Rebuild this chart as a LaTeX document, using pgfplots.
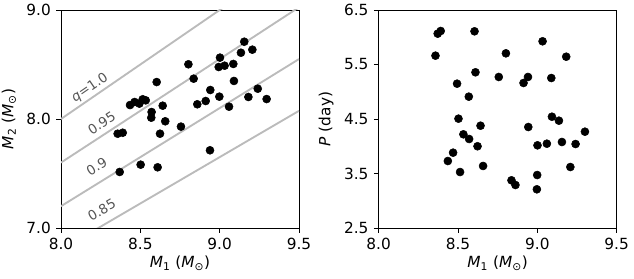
\documentclass[border=0pt]{standalone}
\usepackage{pgfplots}
\pgfplotsset{compat=1.18}
\usepackage{fontspec}
\setmainfont{DejaVu Sans}
\definecolor{qline}{HTML}{BBBBBB}
\definecolor{qtext}{HTML}{555555}
\pgfplotstableread{
m1 m2
9.155 8.709
9.134 8.608
9.206 8.636
9.002 8.563
8.994 8.477
9.031 8.489
9.086 8.505
8.803 8.502
8.836 8.370
9.090 8.349
8.603 8.339
8.941 8.266
9.240 8.278
8.912 8.165
8.998 8.205
9.181 8.202
9.296 8.183
8.859 8.135
9.059 8.113
8.435 8.128
8.464 8.156
8.494 8.141
8.515 8.181
8.534 8.171
8.641 8.122
8.571 8.064
8.569 8.012
8.657 7.979
8.756 7.930
8.357 7.865
8.389 7.874
8.624 7.865
8.939 7.713
8.502 7.581
8.609 7.557
8.370 7.514
}\massdata
\pgfplotstableread{
m1 p
8.391 6.115
8.372 6.066
8.604 6.109
9.033 5.926
8.358 5.662
8.802 5.705
9.182 5.643
8.610 5.357
8.757 5.271
8.941 5.271
8.913 5.161
9.088 5.252
8.494 5.148
8.568 4.910
8.503 4.506
9.092 4.542
9.136 4.469
8.642 4.377
8.943 4.353
9.300 4.267
8.534 4.219
8.570 4.133
8.623 4.000
9.001 4.017
9.060 4.047
9.155 4.078
9.241 4.041
8.469 3.882
8.436 3.729
8.658 3.638
9.208 3.619
8.513 3.527
8.999 3.472
8.837 3.375
8.862 3.289
8.997 3.210
}\perdata
\begin{document}
\fontsize{11.5}{13.5}\selectfont
\begin{tikzpicture}
\useasboundingbox (0,0) rectangle (475.5pt,208.5pt);
\pgfplotsset{
  every axis/.append style={
    scale only axis, width=178.5pt, height=163.5pt,
    anchor=south west,
    tick align=outside, xtick pos=bottom, ytick pos=left,
    major tick length=3.6pt,
    tick style={black, line width=0.6pt},
    axis line style={line width=0.6pt},
    /pgf/number format/assume math mode=true,
    /pgf/number format/fixed, /pgf/number format/fixed zerofill,
    /pgf/number format/precision=1,
    tick label style={font=\fontsize{11.5}{13.5}\selectfont},
    label style={font=\fontsize{11.5}{13.5}\selectfont},
    xmin=8, xmax=9.5, xtick={8,8.5,9,9.5},
    xlabel={\textit{M}\textsubscript{1} (\textit{M}\textsubscript{⊙})},
    xlabel style={yshift=3pt},
  },
}
\begin{axis}[at={(45.75pt,37.5pt)},
  ymin=7, ymax=9, ytick={7,8,9},
  ylabel={\textit{M}\textsubscript{2} (\textit{M}\textsubscript{⊙})},
  ylabel style={yshift=0pt},
]
\addplot[qline, line width=1.4pt] coordinates {(8,8) (9.5,9.5)};
\addplot[qline, line width=1.4pt] coordinates {(8,7.6) (9.5,9.025)};
\addplot[qline, line width=1.4pt] coordinates {(8,7.2) (9.5,8.55)};
\addplot[qline, line width=1.4pt] coordinates {(8,6.8) (9.5,8.075)};
\node[qtext, rotate=34.5, font=\fontsize{10}{12}\selectfont] at (axis cs:8.183,8.284) {\textit{q}=1.0};
\node[qtext, rotate=33.1, font=\fontsize{10}{12}\selectfont] at (axis cs:8.256,7.96) {0.95};
\node[qtext, rotate=31.7, font=\fontsize{10}{12}\selectfont] at (axis cs:8.225,7.562) {0.9};
\node[qtext, rotate=30.3, font=\fontsize{10}{12}\selectfont] at (axis cs:8.256,7.165) {0.85};
\addplot[only marks, mark=*, mark size=3pt, black] table[x=m1, y=m2] {\massdata};
\end{axis}
\begin{axis}[at={(284pt,37.5pt)},
  ymin=2.5, ymax=6.5, ytick={2.5,3.5,4.5,5.5,6.5},
  ylabel={\textit{P} (day)},
  ylabel style={yshift=0pt},
]
\addplot[only marks, mark=*, mark size=3pt, black] table[x=m1, y=p] {\perdata};
\end{axis}
\end{tikzpicture}
\end{document}
